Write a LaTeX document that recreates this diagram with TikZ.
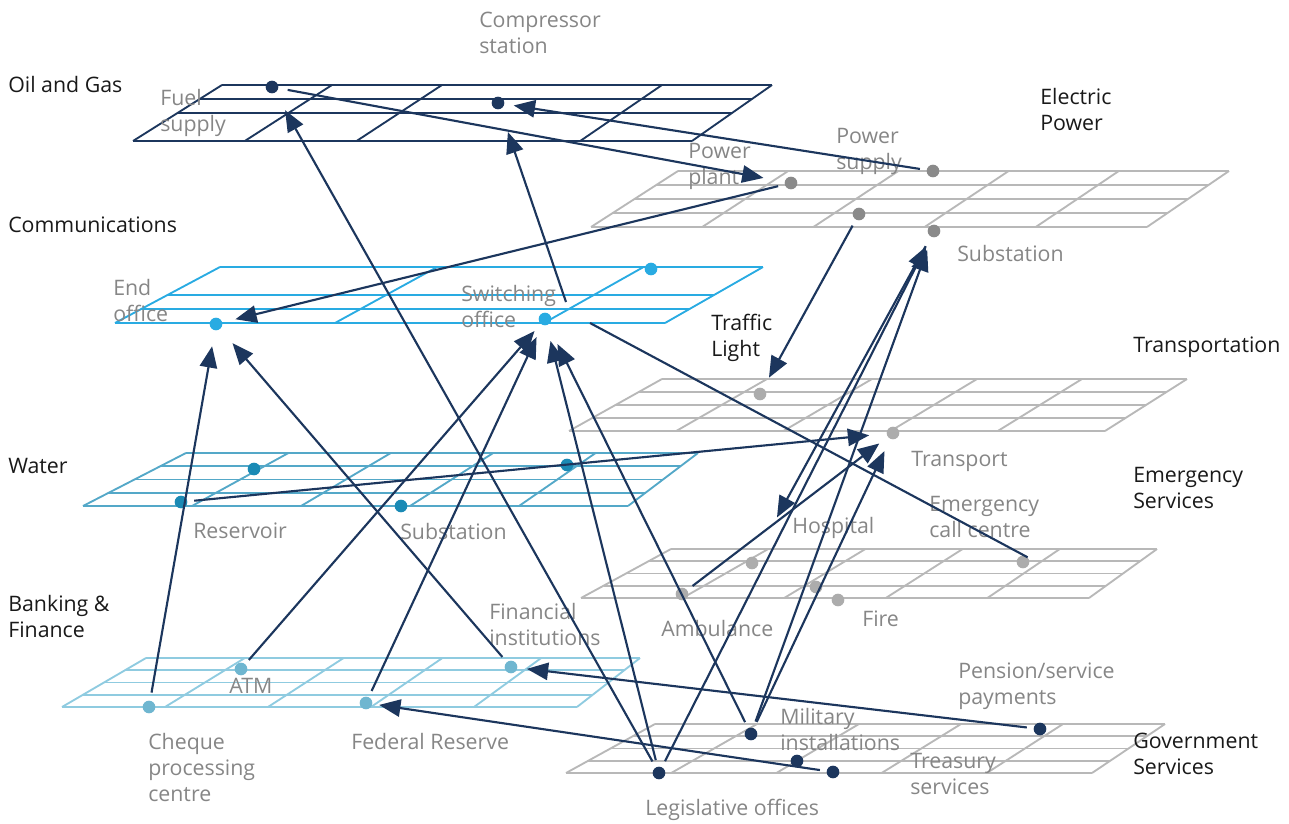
\documentclass[tikz,border=0pt]{standalone}
\usepackage{fontspec}
\setmainfont{Open Sans}
\usetikzlibrary{arrows.meta,calc,positioning}

\definecolor{navy}{RGB}{28,54,93}
\definecolor{lightgrid}{RGB}{184,184,184}
\definecolor{commblue}{RGB}{41,171,226}
\definecolor{watergrid}{RGB}{84,168,200}
\definecolor{waterdot}{RGB}{26,138,181}
\definecolor{bankgrid}{RGB}{143,203,224}
\definecolor{bankdot}{RGB}{111,182,208}
\definecolor{labelgray}{RGB}{134,134,134}
\definecolor{darkdot}{RGB}{138,138,138}
\definecolor{lightdot}{RGB}{172,172,172}

\tikzset{
  grid line/.style={line width=1.4pt},
  dot/.style={circle,fill=#1,inner sep=0pt,minimum size=9.5pt},
  link/.style={navy,line width=1.6pt,-{Triangle[length=16pt,width=13pt]}},
  plain link/.style={navy,line width=1.6pt},
  sector/.style={anchor=west,inner sep=0pt,align=left,text=black!90,font=\fontsize{16}{19.5}\selectfont},
  item/.style={anchor=west,inner sep=0pt,align=left,text=labelgray,font=\fontsize{16}{19.5}\selectfont}
}

\begin{document}
\begin{tikzpicture}[x=0.75pt,y=-0.75pt]
  \useasboundingbox (0,0) rectangle (1289,824);

  % plane corners
  \coordinate (oil-BL) at (133,141);   \coordinate (oil-BR) at (692,141);
  \coordinate (oil-TR) at (772,85);    \coordinate (oil-TL) at (222,85);
  \coordinate (elec-BL) at (591,227);  \coordinate (elec-BR) at (1147,227);
  \coordinate (elec-TR) at (1229,171); \coordinate (elec-TL) at (678,171);
  \coordinate (comm-BL) at (115,323);  \coordinate (comm-BR) at (665,323);
  \coordinate (comm-TR) at (763,267);  \coordinate (comm-TL) at (220,267);
  \coordinate (trans-BL) at (569,431); \coordinate (trans-BR) at (1105,431);
  \coordinate (trans-TR) at (1187,379);\coordinate (trans-TL) at (662,379);
  \coordinate (water-BL) at (83,506);  \coordinate (water-BR) at (628,506);
  \coordinate (water-TR) at (698,453); \coordinate (water-TL) at (186,453);
  \coordinate (emerg-BL) at (581,598); \coordinate (emerg-BR) at (1089,598);
  \coordinate (emerg-TR) at (1157,549);\coordinate (emerg-TL) at (671,549);
  \coordinate (bank-BL) at (62,707);   \coordinate (bank-BR) at (577,707);
  \coordinate (bank-TR) at (640,658);  \coordinate (bank-TL) at (146,658);
  \coordinate (gov-BL) at (566,773);   \coordinate (gov-BR) at (1092,773);
  \coordinate (gov-TR) at (1165,724);  \coordinate (gov-TL) at (655,724);

  \foreach \p/\c/\rows/\cols in {
      oil/navy/{0,.25,.5,1}/{0,.2,.4,.8,1},
      elec/lightgrid/{0,.25,.5,.75,1}/{0,.2,.4,.6,.8,1},
      comm/commblue/{0,.5,.75,1}/{0,.4,.78,1},
      trans/lightgrid/{0,.25,.5,.75,1}/{0,.2,.4,.6,.8,1},
      water/watergrid/{0,.25,.5,.75,1}/{0,.2,.4,.6,.8,1},
      emerg/lightgrid/{0,.25,.5,.75,1}/{0,.2,.4,.6,.8,1},
      bank/bankgrid/{0,.25,.5,.75,1}/{0,.2,.4,.6,.8,1},
      gov/lightgrid/{0,.25,.5,.75,1}/{0,.2,.4,.6,.8,1}} {
    \foreach \t in \rows
      \draw[grid line,draw=\c] ($(\p-TL)!\t!(\p-BL)$) -- ($(\p-TR)!\t!(\p-BR)$);
    \foreach \s in \cols
      \draw[grid line,draw=\c] ($(\p-BL)!\s!(\p-BR)$) -- ($(\p-TL)!\s!(\p-TR)$);
  }

  % sector names
  \node[sector] at (8,85) {Oil and Gas};
  \node[sector] at (1040,109) {Electric\\Power};
  \node[sector] at (8,225) {Communications};
  \node[sector] at (711,338) {Traffic\\Light};
  \node[sector] at (1133,347) {Transportation};
  \node[sector] at (8,466) {Water};
  \node[sector] at (1133,488) {Emergency\\Services};
  \node[sector] at (8,616) {Banking \&\\Finance};
  \node[sector] at (1133,754) {Government\\Services};

  % element names
  \node[item] at (160,113) {Fuel\\supply};
  \node[item] at (479,33) {Compressor\\station};
  \node[item] at (836,151) {Power\\supply};
  \node[item] at (688,166) {Power\\plant};
  \node[item] at (957,253) {Substation};
  \node[item] at (113,300) {End\\office};
  \node[item] at (461,306) {Switching\\office};
  \node[item] at (911,461) {Transport};
  \node[item] at (193,531) {Reservoir};
  \node[item] at (400,531) {Substation};
  \node[item] at (792,528) {Hospital};
  \node[item] at (929,517) {Emergency\\call centre};
  \node[item] at (489,624) {Financial\\institutions};
  \node[item] at (661,628) {Ambulance};
  \node[item] at (862,619) {Fire};
  \node[item] at (958,686) {Pension/service\\payments};
  \node[item] at (229,686) {ATM};
  \node[item] at (780,729) {Military\\installations};
  \node[item] at (351,741) {Federal Reserve};
  \node[item] at (148,767) {Cheque\\processing\\centre};
  \node[item] at (910,774) {Treasury\\services};
  \node[item] at (645,810) {Legislative offices};

  % dots
  \node[dot=navy] (fuel) at (272,87) {};
  \node[dot=navy] (compressor) at (498,103) {};
  \node[dot=darkdot] (powerplant) at (791,183) {};
  \node[dot=darkdot] (powersupply) at (933,171) {};
  \node[dot=darkdot] (elecmid) at (859,214) {};
  \node[dot=darkdot] (elecsub) at (934,231) {};
  \node[dot=commblue] (endoffice) at (216,324) {};
  \node[dot=commblue] (switching) at (545,319) {};
  \node[dot=commblue] (commtop) at (651,269) {};
  \node[dot=lightdot] (traffic) at (760,394) {};
  \node[dot=lightdot] (transport) at (893,433) {};
  \node[dot=waterdot] (waterleft) at (254,469) {};
  \node[dot=waterdot] (waterright) at (567,465) {};
  \node[dot=waterdot] (reservoir) at (181,502) {};
  \node[dot=waterdot] (watersub) at (401,506) {};
  \node[dot=lightdot] (hospital) at (752,563) {};
  \node[dot=lightdot] (callcentre) at (1023,562) {};
  \node[dot=lightdot] (ambulance) at (682,594) {};
  \node[dot=lightdot] (emergmid) at (816,587) {};
  \node[dot=lightdot] (fire) at (838,600) {};
  \node[dot=bankdot] (atm) at (241,669) {};
  \node[dot=bankdot] (cheque) at (149,707) {};
  \node[dot=bankdot] (fedreserve) at (366,703) {};
  \node[dot=bankdot] (financial) at (511,667) {};
  \node[dot=navy] (military) at (751,734) {};
  \node[dot=navy] (pension) at (1040,729) {};
  \node[dot=navy] (legislative) at (659,773) {};
  \node[dot=navy] (govmid) at (797,761) {};
  \node[dot=navy] (treasury) at (833,772) {};
  \coordinate (swtop) at (566,302);
  \coordinate (swright) at (590,323);

  % dependencies
  \draw[link,shorten <=7pt,shorten >=16pt] (fuel) -- (powerplant);
  \draw[link,shorten <=5pt,shorten >=7pt] (powersupply) -- (compressor);
  \draw[link,shorten <=5pt,shorten >=10pt] (powerplant) -- (endoffice);
  \draw[link,shorten <=5pt,shorten >=9pt] (elecmid) -- (traffic);
  \draw[link,shorten >=18pt] (swtop) -- (compressor);
  \draw[link,shorten <=5pt,shorten >=15pt] (legislative) -- (fuel);
  \draw[link,shorten <=6pt,shorten >=12pt] (cheque) -- (endoffice);
  \draw[link,shorten <=5pt,shorten >=14pt] (financial) -- (endoffice);
  \draw[link,shorten <=4pt,shorten >=7pt] (atm) -- (switching);
  \draw[link,shorten <=5pt,shorten >=10pt] (fedreserve) -- (switching);
  \draw[link,shorten <=5pt,shorten >=12pt] (legislative) -- (switching);
  \draw[link,shorten <=5pt,shorten >=16pt] (military) -- (switching);
  \draw[link,shorten <=5pt,shorten >=8pt] (legislative) -- (elecsub);
  \draw[link,shorten <=8pt,shorten >=34pt] (elecsub) -- (hospital);
  \draw[link,shorten <=5pt,shorten >=10pt] (military) -- (elecsub);
  \draw[link,shorten <=5pt,shorten >=10pt] (military) -- (transport);
  \draw[link,shorten <=5pt,shorten >=8pt] (ambulance) -- (transport);
  \draw[link,shorten <=5pt,shorten >=13pt] (reservoir) -- (transport);
  \draw[link,shorten <=5pt,shorten >=7pt] (pension) -- (financial);
  \draw[link,shorten <=5pt,shorten >=5pt] (treasury) -- (fedreserve);
  \draw[plain link] (swright) -- (callcentre.north east);
\end{tikzpicture}
\end{document}
